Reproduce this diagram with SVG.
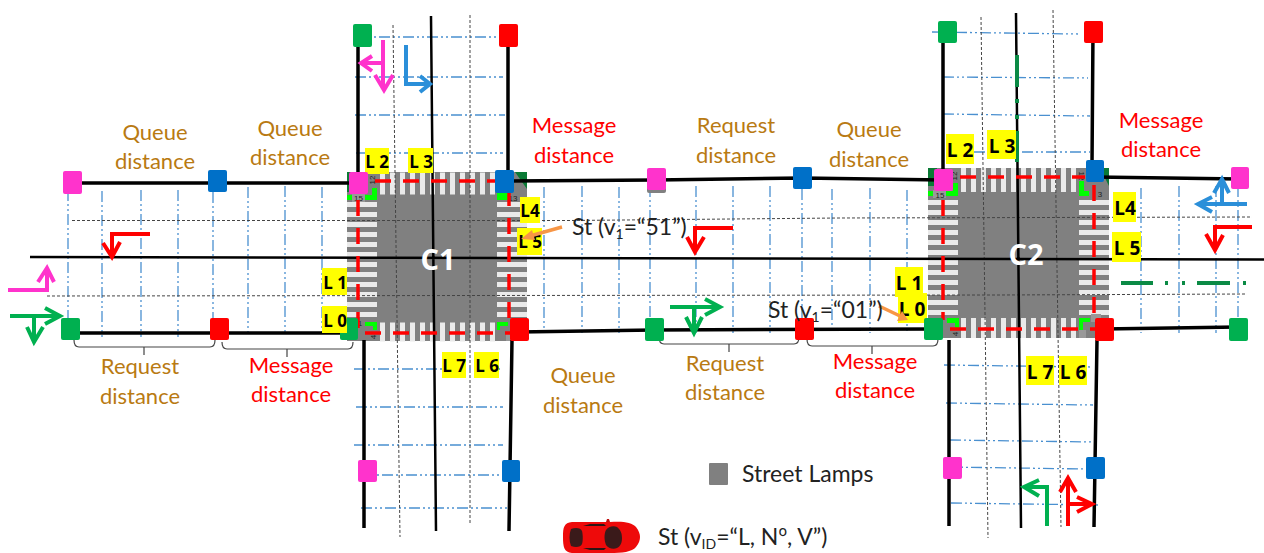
<svg xmlns="http://www.w3.org/2000/svg" width="1264" height="553" viewBox="0 0 1264 553">
<style>
.road{stroke:#000;fill:none;stroke-width:3.5}
.thin{stroke:#000;fill:none;stroke-width:2.5}
.dot{stroke:#444;fill:none;stroke-width:1;stroke-dasharray:3 2}
.grid{stroke:#4A90D0;fill:none;stroke-width:1.3;stroke-dasharray:11 3 2 3 2 3}
.red{stroke:#F00;fill:none;stroke-width:3.5;stroke-dasharray:16 12}
.zeb{stroke:#EAEAEA;fill:none;stroke-dasharray:5 5}
.ar{fill:none;stroke-width:4}
.brace{fill:none;stroke:#444;stroke-width:1.2}
.t{font-family:Lato,"Liberation Sans",sans-serif;font-size:22px;text-anchor:middle}
.or{fill:#B97A12}.rd{fill:#F00}
.k{font-family:Lato,"Liberation Sans",sans-serif;font-size:23px;fill:#222}
.l{font-family:"Open Sans","Liberation Sans",sans-serif;font-weight:700;fill:#000;text-anchor:middle}
.n{font-family:"Liberation Sans",sans-serif;font-size:8px;fill:#222;text-anchor:middle}
.c{font-family:"Open Sans","Liberation Sans",sans-serif;font-weight:700;font-size:29px;fill:#fff;text-anchor:middle}
.y{fill:#FF0}
.pk{fill:#FF33CC}.bl{fill:#0070C8}.gn{fill:#00B050}.rs{fill:#F00}
.bg{fill:#0F0}.dg{fill:#0A7A35}
</style>

<g id="grid">
<path class="grid" d="M355 37H500M355 77H503M355 115H505M356 153H503M354 369H500M356 407H503M354 445H503M358 475H501M361 508H507"/>
<path class="grid" d="M932 32L1078 34M943 77L1088 78M943 114L1090 116M950 152H1090M944 365L1090 367M946 403L1093 405M950 440L1093 442M947 467L1085 469M951 503L1098 505"/>
<path class="grid" d="M68 190V337M102 191V337M141 190V337M178 190V337M213 192V337M248 187V333M285 186V333M322 187V333"/>
<path class="grid" d="M544 187V333M582 186V333M619 187V333M650 186V333M696 186V333M733 186V333M770 186V333M802 189V333M832 189V333M870 188V333M907 190V333"/>
<path class="grid" d="M1141 188V333M1179 186V333M1216 186V333M1238 186V333"/>
</g>

<g id="intersection-c1">
<rect x="347" y="172" width="180" height="169" fill="#808080"/>
<path class="zeb" stroke-width="22" d="M380 183.500H497"/>
<path class="zeb" stroke-width="19" d="M380 332H497"/>
<path class="zeb" stroke-width="30" d="M362 202V320"/>
<path class="zeb" stroke-width="30" d="M512 202V320"/>
<path class="dg" d="M347 172H356V192H347ZM515 172H527V189Z"/>
<path class="bg" d="M347 195H372V188H377V200H347ZM497 193H508V200H497ZM365 322H377V330H373V326H365ZM497 322H508V326H500V330H497Z"/>
<rect x="352" y="194" width="13" height="8" fill="#999"/>
<rect x="506" y="333" width="6" height="8" fill="#999"/>
<text class="n" x="358.500" y="201">15</text>
<text class="n" transform="translate(375 180) rotate(-90)">12</text>
<text class="n" x="513" y="201">13</text>
<text class="n" x="360" y="326">1</text>
<text class="n" transform="translate(376 337) rotate(-90)">4</text>
</g>
<g id="intersection-c2">
<rect x="928" y="168" width="181" height="170" fill="#808080"/>
<path class="zeb" stroke-width="24" d="M961 180H1077"/>
<path class="zeb" stroke-width="20" d="M961 328H1077"/>
<path class="zeb" stroke-width="30" d="M943 200V318"/>
<path class="zeb" stroke-width="30" d="M1094 200V318"/>
<path class="dg" d="M928 168H937V186H928ZM1100 168H1109V186Z"/>
<path class="bg" d="M928 191H953V183H958V196H928ZM1079 181H1084V191H1089V196H1079ZM947 318H959V330H955V323H947ZM1079 318H1090V322H1083V330H1079Z"/>
<rect x="933" y="190" width="13" height="8" fill="#999"/>
<rect x="1091" y="314" width="10" height="8" fill="#999"/>
<rect x="1079" y="330" width="7" height="8" fill="#999"/>
<text class="n" x="940" y="198">15</text>
<text class="n" transform="translate(957 176) rotate(-90)">12</text>
<text class="n" transform="translate(1079 176) rotate(90)">12</text>
<text class="n" x="1100" y="197">3</text>
<text class="n" transform="translate(958 334) rotate(-90)">4</text>
</g>

<g id="lanes">
<path class="dot" d="M72 220.500H570L840 218L1252 217M47 296L480 295.500L1000 295L1247 294"/>
<path class="dot" d="M393 25L400 537M470 15V525M981 17L988 538M1053 10L1061 527"/>
</g>

<g id="connectors">
<path class="road" d="M72 183H358M505 181L656 180L802 178L943 180M1095 177L1240 179M70 333H350M518 332L654 330L935 329M1103 329L1238 327"/>
<path class="road" d="M358 35V183M364 340V528M508 35V172M512 340L509 531M943 30V170M949 340V526M1093 30L1092 165M1097 340L1094 527"/>
<path class="thin" d="M30 257L1264 259.500M431 16L436 531M1016 13L1021 528"/>
<path class="red" d="M375 181H500M358 200V328M509 190V320M365 333H510"/>
<path class="red" d="M960 177H1085M943 200V320M1094 185V320M950 329H1095"/>
<path d="M1121 283H1153M1165 283H1168M1182 283H1185M1197 283H1230M1243 283H1246M1017 55V87M1017 99V103M1017 115V119M1017 131V162" fill="none" stroke="#0B8A45" stroke-width="4"/>
<path class="brace" d="M74 340Q74 347 79 347H210Q215 347 215 340M144 347V355M222 342Q222 349 227 349H348Q353 349 353 342M287 349V357M659 337Q659 344 664 344H794Q799 344 799 337M729 344V352M807 339Q807 346 812 346H933Q938 346 938 339M872 346V354"/>
</g>

<g id="direction-arrows">
<g class="ar" stroke="#FF33CC"><path d="M383 40V88M375 75L384 90L393 75M383 63H361M372 56L361 63L372 71M8 290H47V269M38 282L47 268L54 282"/></g>
<g class="ar" stroke="#2B8FD9"><path d="M406 45V84H429M420 76L430 84L420 92M1247 204H1199M1212 197L1198 204L1212 212M1222 202V180M1214 193L1222 179L1229 193"/></g>
<g class="ar" stroke="#F00"><path d="M150 234H112V255M103 243L112 257L120 242M733 228H695V250M687 237L695 252L704 237M1252 227H1215V248M1206 234L1215 250L1223 235M1068 526V479M1060 492L1068 478L1076 492M1068 504H1090M1077 497L1092 504L1077 512"/></g>
<g class="ar" stroke="#00B050"><path d="M10 316H58M45 308L60 316L45 324M34 317V340M27 327L34 342L43 327M670 307H718M705 299L720 307L705 315M694 307V331M686 317L694 333L702 317M1047 526V487H1025M1039 480L1024 487L1039 496"/></g>
</g>

<g id="node-under-label">
<rect id="n16" class="gn" x="340" y="318" width="18" height="22" rx="2"/>
</g>

<g id="labels-yellow">
<rect class="y" x="365" y="148" width="24" height="26"/><text class="l" x="377" y="168" font-size="17">L 2</text>
<rect class="y" x="408" y="148" width="25" height="25"/><text class="l" x="421" y="168" font-size="17">L 3</text>
<rect class="y" x="520" y="197" width="20" height="26"/><text class="l" x="530" y="217" font-size="17">L4</text>
<rect class="y" x="517" y="228" width="25" height="27"/><text class="l" x="530" y="248" font-size="17">L 5</text>
<rect class="y" x="322" y="268" width="25" height="27"/><text class="l" x="335" y="289" font-size="17">L 1</text>
<rect class="y" x="322" y="306" width="25" height="27"/><text class="l" x="335" y="327" font-size="17">L 0</text>
<rect class="y" x="442" y="352" width="24" height="26"/><text class="l" x="454" y="372" font-size="17">L 7</text>
<rect class="y" x="474" y="352" width="25" height="26"/><text class="l" x="487" y="372" font-size="17">L 6</text>
<rect class="y" x="946" y="134" width="28" height="30"/><text class="l" x="960" y="157" font-size="19">L 2</text>
<rect class="y" x="987" y="130" width="29" height="29"/><text class="l" x="1002" y="153" font-size="19">L 3</text>
<rect class="y" x="1113" y="192" width="23" height="30"/><text class="l" x="1125" y="215" font-size="19">L4</text>
<rect class="y" x="1112" y="232" width="29" height="30"/><text class="l" x="1127" y="255" font-size="19">L 5</text>
<rect class="y" x="895" y="267" width="28" height="30"/><text class="l" x="909" y="290" font-size="19">L 1</text>
<rect class="y" x="898" y="293" width="29" height="30"/><text class="l" x="912" y="316" font-size="19">L 0</text>
<rect class="y" x="1026" y="356" width="28" height="29"/><text class="l" x="1040" y="379" font-size="19">L 7</text>
<rect class="y" x="1059" y="356" width="28" height="29"/><text class="l" x="1073" y="379" font-size="19">L 6</text>
</g>

<g id="nodes">
<rect id="n1" class="gn" x="353" y="24" width="19" height="23" rx="2"/>
<rect id="n2" class="rs" x="499" y="24" width="19" height="23" rx="2"/>
<rect id="n3" class="gn" x="938" y="21" width="19" height="22" rx="2"/>
<rect id="n4" class="rs" x="1084" y="21" width="19" height="22" rx="2"/>
<rect id="n5" class="pk" x="63" y="171" width="19" height="23" rx="2"/>
<rect id="n6" class="bl" x="208" y="170" width="19" height="22" rx="2"/>
<rect id="n7" class="pk" x="349" y="172" width="19" height="22" rx="2"/>
<rect id="n8" class="bl" x="495" y="170" width="19" height="23" rx="2"/>
<rect x="647" y="171" width="19" height="22" rx="2" fill="#808080"/>
<rect id="n9" class="pk" x="647" y="168" width="19" height="22" rx="2"/>
<rect id="n10" class="bl" x="793" y="167" width="19" height="22" rx="2"/>
<rect id="n11" class="pk" x="934" y="169" width="19" height="22" rx="2"/>
<rect id="n12" class="bl" x="1086" y="160" width="18" height="22" rx="2"/>
<rect id="n13" class="pk" x="1231" y="167" width="18" height="22" rx="2"/>
<rect id="n14" class="gn" x="61" y="318" width="19" height="22" rx="2"/>
<rect id="n15" class="rs" x="210" y="318" width="19" height="22" rx="2"/>
<rect id="n17" class="rs" x="510" y="318" width="19" height="23" rx="2"/>
<rect id="n18" class="gn" x="645" y="318" width="19" height="23" rx="2"/>
<rect id="n19" class="rs" x="795" y="318" width="19" height="22" rx="2"/>
<rect id="n20" class="gn" x="924" y="318" width="19" height="22" rx="2"/>
<rect id="n21" class="rs" x="1095" y="318" width="19" height="23" rx="2"/>
<rect id="n22" class="gn" x="1229" y="318" width="19" height="23" rx="2"/>
<rect id="n23" class="pk" x="358" y="460" width="19" height="22" rx="2"/>
<rect id="n24" class="bl" x="502" y="460" width="18" height="22" rx="2"/>
<rect id="n25" class="pk" x="943" y="457" width="19" height="22" rx="2"/>
<rect id="n26" class="bl" x="1086" y="457" width="19" height="22" rx="2"/>
<rect id="lamp-key" x="709" y="463" width="19" height="22" rx="1" fill="#808080"/>
</g>

<g id="pointers">
<path d="M562 227L530 236" stroke="#F79646" stroke-width="3.500" fill="none"/><path d="M521 239L532 230L535 240Z" fill="#F79646"/>
<path d="M879 306L900 316" stroke="#F79646" stroke-width="3.500" fill="none"/><path d="M908 320L897 321L902 311Z" fill="#F79646"/>
</g>

<g id="car">
<path d="M606 522L607 519H609L610 522Z" fill="#C01010"/>
<path d="M563 537C563 527 564 523 572 522L610 522C622 521 632 522 636 527C639 531 640 534 640 537C640 540 639 543 636 547C632 552 622 553 610 553H572C564 552 563 547 563 537Z" fill="#EE0A0A"/>
<path d="M571 529C576 527 581 528 582 531C583 535 583 541 582 544C581 547 576 548 571 546C569 541 569 534 571 529ZM606 530C608 527 613 525 617 527C621 530 622 534 622 538C622 542 621 546 617 548C613 550 608 548 606 545C604 540 604 534 606 530Z" fill="#3A1A1A"/>
<path d="M583 526L590 524H604L606 526ZM583 548L590 550H604L606 548Z" fill="#2A1515"/>
</g>

<g id="captions">
<text class="c" x="438" y="270">C1</text>
<text class="c" x="1026" y="265">C2</text>
<text class="t or"><tspan x="155" y="140">Queue</tspan><tspan x="155" y="169">distance</tspan></text>
<text class="t or"><tspan x="290" y="136">Queue</tspan><tspan x="290" y="165">distance</tspan></text>
<text class="t rd"><tspan x="574" y="133">Message</tspan><tspan x="574" y="163">distance</tspan></text>
<text class="t or"><tspan x="736" y="133">Request</tspan><tspan x="736" y="163">distance</tspan></text>
<text class="t or"><tspan x="869" y="137">Queue</tspan><tspan x="869" y="167">distance</tspan></text>
<text class="t rd"><tspan x="1161" y="128">Message</tspan><tspan x="1161" y="157">distance</tspan></text>
<text class="t or"><tspan x="140" y="374">Request</tspan><tspan x="140" y="404">distance</tspan></text>
<text class="t rd"><tspan x="291" y="373">Message</tspan><tspan x="291" y="402">distance</tspan></text>
<text class="t or"><tspan x="583" y="383">Queue</tspan><tspan x="583" y="413">distance</tspan></text>
<text class="t or"><tspan x="725" y="371">Request</tspan><tspan x="725" y="400">distance</tspan></text>
<text class="t rd"><tspan x="875" y="369">Message</tspan><tspan x="875" y="398">distance</tspan></text>
<text class="k" x="572" y="235">St (v<tspan font-size="14" dy="4">1</tspan><tspan dy="-4">=“51”)</tspan></text>
<text class="k" x="768" y="318">St (v<tspan font-size="14" dy="4">1</tspan><tspan dy="-4">=“01”)</tspan></text>
<text class="k" x="742" y="482" font-size="22.500">Street Lamps</text>
<text class="k" x="658" y="545">St (v<tspan font-size="14" dy="4">ID</tspan><tspan dy="-4">=“L, N<tspan font-family="Open Sans">º</tspan>, V”)</tspan></text>
</g>
</svg>
